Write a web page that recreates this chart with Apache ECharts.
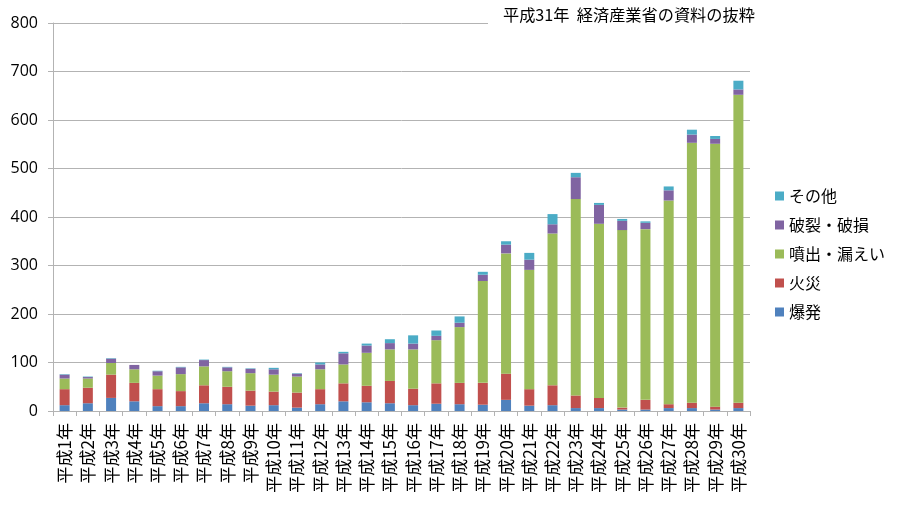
<!DOCTYPE html>
<html>
<head>
<meta charset="utf-8">
<script src="https://cdn.jsdelivr.net/npm/echarts@6/dist/echarts.min.js"></script>
<style>
  html, body { margin: 0; padding: 0; background: #fff; }
  #chart { width: 900px; height: 506px; }
</style>
</head>
<body>
<div id="chart"></div>
<script>
// 平成1年〜平成30年
const years = [
  '平成1年', '平成2年', '平成3年', '平成4年', '平成5年', '平成6年', '平成7年', '平成8年', '平成9年', '平成10年',
  '平成11年', '平成12年', '平成13年', '平成14年', '平成15年', '平成16年', '平成17年', '平成18年', '平成19年', '平成20年',
  '平成21年', '平成22年', '平成23年', '平成24年', '平成25年', '平成26年', '平成27年', '平成28年', '平成29年', '平成30年'
]
const bakuhatsu = [12, 16, 27, 20, 10, 10, 16, 14, 11, 12, 7, 14, 20, 18, 16, 12, 15, 14, 13, 23, 11, 12, 6, 6, 3, 3, 6, 6, 3, 6]
const kasai = [33, 32, 48, 38, 35, 31, 37, 36, 31, 28, 31, 31, 37, 34, 46, 34, 42, 44, 45, 54, 34, 41, 26, 21, 4, 20, 8, 11, 6, 11]
const roei = [22, 19, 24, 28, 28, 35, 39, 32, 36, 35, 33, 41, 39, 68, 65, 81, 89, 115, 210, 248, 246, 313, 405, 359, 366, 352, 420, 536, 542, 635]
const haretsu = [8, 3, 9, 9, 9, 14, 13, 8, 9, 11, 6, 10, 23, 15, 13, 12, 9, 9, 13, 18, 21, 19, 45, 39, 19, 13, 21, 17, 10, 11]
const sonota = [1, 1, 1, 0, 1, 1, 1, 1, 1, 3, 1, 4, 3, 4, 8, 17, 11, 13, 6, 7, 14, 21, 9, 4, 4, 3, 8, 10, 6, 18]
const yTicks = [0, 100, 200, 300, 400, 500, 600, 700, 800]

const jpFont = 'Noto Sans CJK JP'
const gridColor = '#b3b3b3'

const chart = echarts.init(document.getElementById('chart'), null, { renderer: 'canvas' })

function bar(name, data, color) {
  return {
    name: name,
    type: 'bar',
    stack: 'total',
    barWidth: 10,
    data: data,
    itemStyle: { color: color },
    animation: false
  }
}

chart.setOption({
  backgroundColor: '#fff',
  title: {
    text: '平成31年  経済産業省の資料の抜粋',
    left: 488,
    top: 2,
    padding: [5, 8, 5, 15],
    backgroundColor: '#fff',
    textStyle: { fontFamily: jpFont, fontSize: 16.2, fontWeight: 'normal', color: '#000' }
  },
  legend: {
    orient: 'vertical',
    left: 770,
    top: 183,
    icon: 'rect',
    itemWidth: 9,
    itemHeight: 9,
    itemGap: 13,
    data: ['その他', '破裂・破損', '噴出・漏えい', '火災', '爆発'],
    textStyle: { fontFamily: jpFont, fontSize: 16, color: '#000' }
  },
  grid: { left: 53, right: 150, top: 23, bottom: 95 },
  xAxis: {
    type: 'category',
    data: years,
    axisLine: { lineStyle: { color: gridColor } },
    axisTick: { show: true, length: 5, lineStyle: { color: gridColor } },
    axisLabel: { interval: 0, rotate: 90, margin: 12, fontFamily: jpFont, fontSize: 17, color: '#000' }
  },
  yAxis: {
    type: 'value',
    min: yTicks[0],
    max: yTicks[yTicks.length - 1],
    interval: 100,
    axisLine: { show: true, lineStyle: { color: gridColor } },
    axisTick: { show: true, length: 5, lineStyle: { color: gridColor } },
    axisLabel: { margin: 15, fontFamily: 'Open Sans', fontSize: 16, color: '#000' },
    splitLine: { lineStyle: { color: gridColor } }
  },
  series: [
    bar('爆発', bakuhatsu, '#4F81BD'),
    bar('火災', kasai, '#C0504D'),
    bar('噴出・漏えい', roei, '#9BBB59'),
    bar('破裂・破損', haretsu, '#8064A2'),
    bar('その他', sonota, '#4BACC6')
  ]
})
</script>
</body>
</html>
